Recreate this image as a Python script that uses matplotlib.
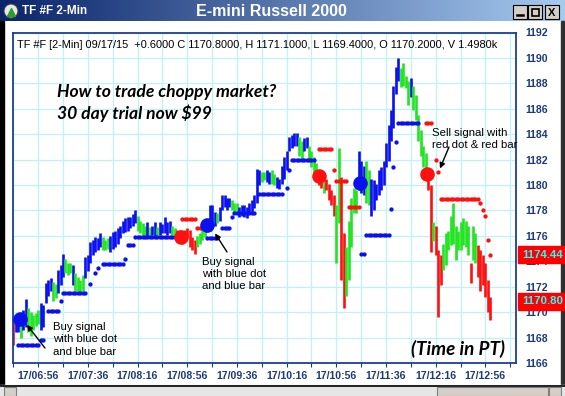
import matplotlib.pyplot as plt
import numpy as np
from matplotlib.patches import Rectangle, Circle
from matplotlib.colors import LinearSegmentedColormap

W, H = 565, 396

# 2-minute bars, index 0 = 17/06:36
bar_low = [
    1167.4, 1168.4, 1168.4, 1168.0, 1168.6, 1168.8, 1168.4, 1168.1, 1168.6, 1168.9,
    1169.1, 1168.6, 1168.8, 1170.7, 1171.3, 1171.7, 1170.9, 1171.1, 1171.5, 1172.1,
    1172.8, 1173.1, 1172.9, 1173.1, 1172.1, 1171.7, 1171.7, 1171.6, 1171.7, 1172.7,
    1173.2, 1173.9, 1174.5, 1174.7, 1174.9, 1175.1, 1174.9, 1174.9, 1175.0, 1174.7,
    1175.0, 1175.1, 1175.4, 1175.8, 1176.2, 1176.3, 1176.4, 1176.6, 1176.8, 1177.0,
    1176.4, 1176.2, 1175.9, 1176.1, 1175.9, 1175.8, 1176.1, 1175.9, 1175.9, 1176.1,
    1176.2, 1176.2, 1176.1, 1176.2, 1176.1, 1175.9, 1175.5, 1175.7, 1175.4, 1175.7,
    1175.9, 1175.1, 1174.9, 1174.6, 1175.1, 1175.4, 1175.7, 1175.9, 1176.3, 1176.4,
    1176.7, 1176.8, 1177.0, 1177.2, 1178.0, 1178.3, 1178.0, 1178.3, 1178.0, 1177.8,
    1177.8, 1177.5, 1177.6, 1177.5, 1177.4, 1177.8, 1177.9, 1178.2, 1178.6, 1180.0,
    1180.2, 1180.4, 1180.2, 1180.1, 1180.1, 1180.0, 1179.8, 1179.7, 1180.1, 1180.5,
    1181.2, 1182.7, 1182.9, 1183.1, 1183.1, 1182.3, 1181.9, 1182.7, 1182.9, 1181.9,
    1181.4, 1180.9, 1180.4, 1180.0, 1179.8, 1179.4, 1179.6, 1178.8, 1178.4, 1177.6,
    1173.9, 1177.0, 1172.5, 1170.3, 1171.3, 1172.5, 1175.1, 1177.8, 1177.8, 1179.6,
    1179.4, 1179.2, 1178.6, 1178.4, 1177.6, 1178.0, 1178.8, 1179.2, 1179.6, 1180.0,
    1181.4, 1181.9, 1183.5, 1184.5, 1187.2, 1188.2, 1187.7, 1187.8, 1187.6, 1186.3,
    1186.9, 1185.9, 1185.1, 1183.5, 1182.3, 1181.4, 1181.0, 1179.6, 1174.7, 1175.6,
    1174.5, 1169.6, 1172.1, 1173.3, 1173.7, 1174.9, 1175.3, 1175.4, 1174.1, 1174.9,
    1174.9, 1175.3, 1175.1, 1174.5, 1172.3, 1174.1, 1173.9, 1172.8, 1171.7, 1172.1,
    1171.2, 1170.0, 1169.4]
bar_high = [
    1169.5, 1169.5, 1169.4, 1169.1, 1170.2, 1171.0, 1170.3, 1170.0, 1169.8, 1169.9,
    1170.2, 1170.7, 1170.6, 1172.3, 1172.5, 1172.7, 1172.4, 1172.2, 1173.3, 1173.7,
    1174.6, 1174.2, 1173.9, 1173.9, 1173.7, 1173.1, 1172.8, 1172.5, 1172.9, 1174.3,
    1174.5, 1175.5, 1175.7, 1175.9, 1175.8, 1176.2, 1175.9, 1175.7, 1175.8, 1176.0,
    1176.3, 1176.4, 1176.6, 1176.8, 1177.2, 1177.4, 1177.5, 1177.5, 1177.7, 1178.0,
    1177.6, 1177.2, 1177.0, 1176.8, 1177.1, 1176.7, 1176.8, 1177.1, 1176.7, 1177.1,
    1176.9, 1177.5, 1177.1, 1177.2, 1176.8, 1176.6, 1176.5, 1176.5, 1176.3, 1176.5,
    1176.6, 1176.5, 1175.9, 1175.7, 1176.0, 1176.2, 1176.6, 1176.8, 1177.2, 1178.4,
    1178.4, 1177.9, 1177.8, 1178.3, 1179.2, 1179.2, 1179.0, 1179.0, 1178.8, 1178.6,
    1178.6, 1178.3, 1178.4, 1178.4, 1178.3, 1178.6, 1178.8, 1179.2, 1181.3, 1181.2,
    1181.0, 1181.0, 1181.2, 1181.0, 1181.2, 1180.9, 1180.6, 1180.5, 1181.5, 1182.2,
    1182.7, 1183.8, 1183.9, 1184.1, 1184.1, 1183.8, 1183.5, 1183.7, 1183.8, 1183.1,
    1182.7, 1182.2, 1181.7, 1181.2, 1180.6, 1180.6, 1180.5, 1180.1, 1179.6, 1179.2,
    1178.4, 1182.9, 1180.6, 1176.2, 1175.1, 1177.2, 1179.0, 1179.8, 1179.6, 1182.7,
    1181.9, 1181.5, 1181.9, 1181.2, 1180.5, 1180.4, 1180.1, 1181.2, 1181.4, 1181.9,
    1183.3, 1184.7, 1185.9, 1187.8, 1189.3, 1190.0, 1189.2, 1189.6, 1188.6, 1188.2,
    1188.4, 1187.8, 1187.1, 1185.5, 1184.3, 1183.1, 1182.5, 1181.0, 1180.0, 1177.1,
    1176.8, 1174.9, 1174.5, 1175.4, 1176.2, 1176.4, 1177.6, 1178.6, 1176.8, 1176.4,
    1177.1, 1177.4, 1177.2, 1176.8, 1173.9, 1176.8, 1176.2, 1175.3, 1174.9, 1174.5,
    1173.9, 1172.5, 1171.2]
# B = blue (up), G = green, R = red (down)
bar_state = ("RBBGBBGGGGG" "BBBBB" "GG" "BBB" "GGG" "B" "GGGG" "BBBBBBB" "GGG"
             "BBBBBBBBBBB" "GGGG" "BGBBG" "BBBBB" "GG" "RRRRRRRR" "GGGG" "BBBB" "G"
             "BBBBB" "GGG" "BBBBBBBBB" "GG" "BB" "GG" "BBBBBBBBB" "GG" "BB" "GGGG"
             "RR" "G" "RRRR" "GG" "RR" "GGGGG" "BBB" "GG" "BBBBBBBBBBBB" "GGGG" "B"
             "GGGGGG" "RR" "G" "RRR" "GGGGGGGGGGG" "R" "GG" "RRRRRR")

# trailing stop dots: (first bar, last bar, price)
blue_stops = [(2, 10, 1167.4), (11, 12, 1167.8), (14, 18, 1170.1), (19, 19, 1170.9),
              (20, 29, 1171.5), (31, 31, 1172.2), (33, 33, 1173.1), (34, 34, 1173.5),
              (36, 44, 1173.8), (45, 45, 1174.2), (46, 48, 1175.3), (49, 65, 1175.9),
              (78, 82, 1175.8), (84, 87, 1176.6), (88, 88, 1177.5), (89, 97, 1177.8),
              (99, 108, 1179.3), (110, 110, 1179.8), (111, 111, 1181.2), (112, 121, 1182.0),
              (140, 141, 1174.6), (142, 151, 1176.1), (152, 152, 1178.1), (153, 153, 1181.4),
              (154, 154, 1183.4), (155, 163, 1184.9)]
red_stops = [(68, 73, 1177.3), (74, 75, 1176.6), (123, 128, 1182.8), (129, 129, 1181.2),
             (130, 134, 1180.3), (135, 139, 1178.3), (166, 168, 1184.9), (170, 170, 1182.0),
             (171, 171, 1181.0), (172, 187, 1178.9), (188, 188, 1178.6), (189, 189, 1178.0),
             (190, 190, 1177.6), (191, 191, 1175.7), (192, 192, 1174.5)]

sig_bar = [2.8, 67.6, 78.0, 123.2, 139.6, 166.4]
sig_price = [1169.45, 1175.9, 1176.85, 1180.75, 1180.15, 1180.9]
sig_state = ["B", "R", "B", "R", "B", "R"]

time_labels = ["17/06:56", "17/07:36", "17/08:16", "17/08:56", "17/09:36",
               "17/10:16", "17/10:56", "17/11:36", "17/12:16", "17/12:56"]
price_ticks = list(range(1166, 1193, 2))

colors = {"B": "#0a10ee", "G": "#22e422", "R": "#ff1010"}
navy = "#1c3a7a"
fam = ["Liberation Sans", "DejaVu Sans"]

fig = plt.figure(figsize=(W / 100, H / 100), dpi=100)

# ---- window chrome (pixel coordinates) ----
bg = fig.add_axes([0, 0, 1, 1], zorder=0)
tb = LinearSegmentedColormap.from_list("tb", ["#0a246a", "#a6caf0"])
bg.imshow(np.linspace(0, 1, 256).reshape(1, -1), cmap=tb, extent=(0, W, 21, 0), aspect="auto")
bg.set_xlim(0, W)
bg.set_ylim(H, 0)
bg.axis("off")
bg.add_patch(Rectangle((0, 21), 4, 365, color="black"))
bg.add_patch(Rectangle((561, 21), 4, 365, color="#303030"))
bg.add_patch(Rectangle((0, 385), W, 11, color="#e6e6e6"))
bg.plot([0, W], [385.5, 385.5], color="black", lw=1.2)
bg.add_patch(Rectangle((4, 387), 12, 9, fc="#d4d0c8", ec="#808080", lw=0.8))
bg.add_patch(Rectangle((437, 387), 111, 9, fc="#d4d0c8", ec="#808080", lw=0.8))
bg.add_patch(Rectangle((549, 387), 12, 9, fc="#d4d0c8", ec="#808080", lw=0.8))
bg.add_patch(Circle((11, 11), 7, fc="#e8e8e8", ec="#404040", lw=0.8))
bg.plot([11], [12], marker="^", ms=6, color="#2aa02a")
for bx in [513, 528, 545]:
    bg.add_patch(Rectangle((bx, 5), 14, 14, fc="#d4d0c8", ec="black", lw=0.8))
bg.plot([517, 523], [15, 15], color="black", lw=1.8)
bg.add_patch(Rectangle((531.5, 8.5), 7, 7, fill=False, ec="black", lw=1.2))
bg.text(552, 12.5, "X", ha="center", va="center", fontsize=8, fontweight="bold", family=fam)
bg.text(22, 11, "TF #F 2-Min", color="white", fontsize=8.5, fontweight="bold",
        va="center", family=fam)
bg.text(271, 11, "E-mini Russell 2000", color="white", fontsize=11.5, fontweight="bold",
        ha="center", va="center", family=fam)

# ---- chart ----
ax = fig.add_axes([12.7 / W, 1 - 363 / H, (516 - 12.7) / W, (363 - 32.5) / H], zorder=1)
ax.set_xlim(-0.24, 202.3)
ax.set_ylim(1166, 1192)

idx = np.arange(len(bar_low))
ax.vlines(idx, bar_low, bar_high, colors=[colors[s] for s in bar_state[:len(idx)]],
          lw=1.9, zorder=2)

for stops, key in [(blue_stops, "B"), (red_stops, "R")]:
    xs, ys = [], []
    for a, b, p in stops:
        for i in range(a, b + 1):
            xs.append(i)
            ys.append(p)
    ax.plot(xs, ys, "o", ms=3.1, color=colors[key], mec="none", zorder=3)

for xb, pb, s in zip(sig_bar, sig_price, sig_state):
    ax.plot(xb, pb, "o", ms=10.5, color=colors[s], mec="none", zorder=4)

ax.set_xticks(np.arange(10, 200, 20))
ax.set_xticklabels(time_labels)
ax.set_xticks(np.arange(0, 210, 20), minor=True)
ax.set_yticks(price_ticks)
ax.yaxis.tick_right()
ax.tick_params(axis="y", which="both", length=0, pad=7, labelsize=7.6, labelcolor=navy)
ax.tick_params(axis="x", which="both", length=3, width=0.8, color=navy, pad=3,
               labelsize=7.6, labelcolor=navy)
for lab in ax.get_xticklabels() + ax.get_yticklabels():
    lab.set_fontweight("bold")
    lab.set_family(fam)
ax.grid(True, which="both", axis="x", color="#bff3f3", lw=0.9)
ax.grid(True, which="major", axis="y", color="#bff3f3", lw=0.9)
ax.set_axisbelow(True)
for sp in ax.spines.values():
    sp.set_color("#1c3f94")
    sp.set_linewidth(1.3)

# ---- overlay texts ----
top = fig.add_axes([0, 0, 1, 1], zorder=5)
top.set_xlim(0, W)
top.set_ylim(H, 0)
top.axis("off")

hdr = top.text(17, 45, "TF #F [2-Min] 09/17/15  +0.6000 C 1170.8000, H 1171.1000, "
               "L 1169.4000, O 1170.2000, V 1.4980k", fontsize=7.9, va="center", family=fam)
clip = Rectangle((0, 0), 497, H, transform=top.transData)
hdr.set_clip_path(clip)

ital = ["Lato", "DejaVu Sans"]
top.text(57, 92, "How to trade choppy market?", fontsize=12.6, fontweight="bold",
         style="italic", va="center", family=ital)
top.text(57, 113, "30 day trial now $99", fontsize=12.6, fontweight="bold",
         style="italic", va="center", family=ital)
top.text(411, 349, "(Time in PT)", fontsize=13.6, fontweight="bold",
         style="italic", va="center", family=ital)

top.text(53, 339.5, "Buy signal\nwith blue dot\nand blue bar", fontsize=8.2,
         linespacing=1.3, va="center", family=fam)
top.text(202, 274, "Buy signal\nwith blue dot\nand blue bar", fontsize=8.2,
         linespacing=1.3, va="center", family=fam)
top.text(432, 139, "Sell signal with\nred dot & red bar", fontsize=8.2,
         linespacing=1.3, va="center", family=fam)

arrow = dict(arrowstyle="-|>", color="black", lw=1.0, mutation_scale=8, shrinkA=0, shrinkB=0)
ax.annotate("", xy=(5.5, 1169.0), xytext=(45, 348), textcoords=top.transData,
            arrowprops=arrow, zorder=6)
ax.annotate("", xy=(81.2, 1176.2), xytext=(227, 252), textcoords=top.transData,
            arrowprops=arrow, zorder=6)
ax.annotate("", xy=(171.7, 1181.3), xytext=(449, 147), textcoords=top.transData,
            arrowprops=arrow, zorder=6)

# last price boxes on the right scale (they cover the 1174 / 1170 scale labels, as on screen)
for y0, txt in [(246, "1174.44"), (293, "1170.80")]:
    top.add_patch(Rectangle((518, y0), 47, 17, color="#ff0000"))
    top.text(522, y0 + 8.5, txt, color="#22ffff", fontsize=8.2, fontweight="bold",
             va="center", family=fam)

fig.savefig("out.png", dpi=100)
